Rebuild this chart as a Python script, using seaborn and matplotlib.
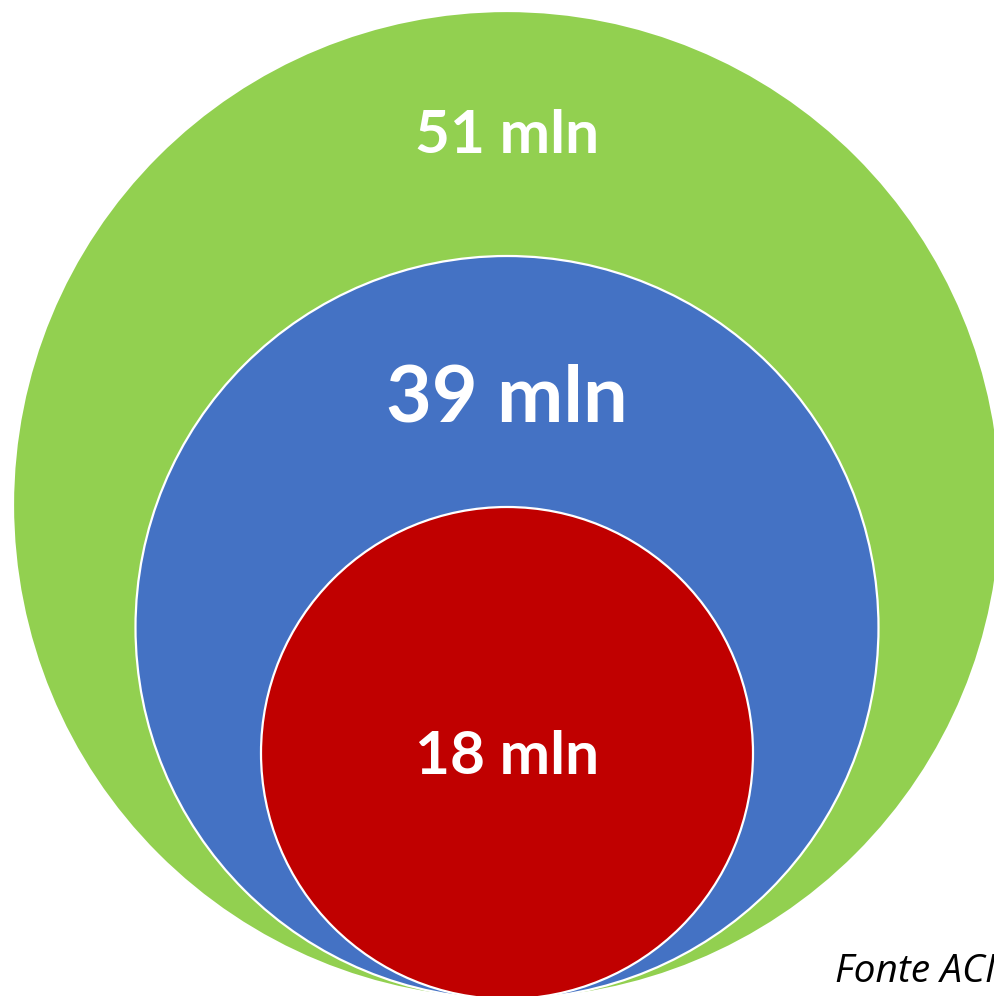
import matplotlib
matplotlib.use('Agg')
import matplotlib.pyplot as plt
from matplotlib.patches import Circle
import seaborn as sns

# nested circles (outer -> inner)
labels = ['51 mln', '39 mln', '18 mln']
values = [51, 39, 18]
colors = ['#92D050', '#4472C4', '#C00000']
source_note = 'Fonte ACI'

# layout, in pixels of the 994x996 canvas
radius = [494, 371.5, 246]
center_x = 507
bottom_y = 999
label_y = [153, 421, 774]       # baselines
label_size = [43.5, 57, 43.5]

sns.set_theme(style='white')
plt.rcParams['font.family'] = ['Lato', 'DejaVu Sans']

fig = plt.figure(figsize=(9.94, 9.96), dpi=100)
ax = fig.add_axes([0, 0, 1, 1])
ax.set_xlim(0, 994)
ax.set_ylim(996, 0)
ax.set_aspect('equal')
ax.axis('off')

for r, c in zip(radius, colors):
    ax.add_patch(Circle((center_x, bottom_y - r), r, facecolor=c,
                        edgecolor='white', linewidth=1.6))

for lab, y, fs in zip(labels, label_y, label_size):
    ax.text(center_x, y, lab, color='white', fontsize=fs, fontweight='bold',
            ha='center', va='baseline')

ax.text(835, 982, source_note, fontsize=28, fontstyle='italic',
        color='black', ha='left', va='baseline', family=['Open Sans', 'DejaVu Sans'])

fig.savefig('out.png', dpi=100)
